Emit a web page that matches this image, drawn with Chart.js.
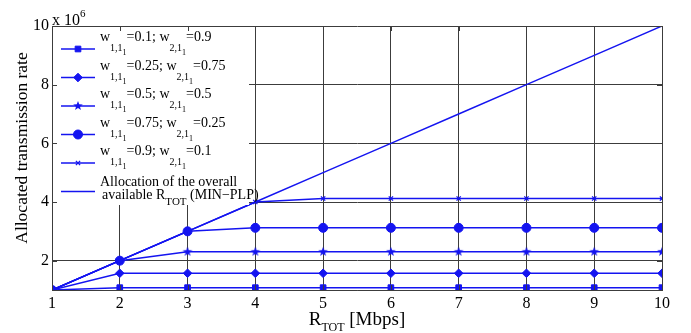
<!DOCTYPE html>
<html>
<head>
<meta charset="utf-8">
<script src="https://cdn.jsdelivr.net/npm/chart.js@4.4.1/dist/chart.umd.min.js"></script>
<style>
  body { margin: 0; background: #fff; }
  #wrap { width: 691px; height: 333px; position: relative; }
</style>
</head>
<body>
<div id="wrap"><canvas id="chart"></canvas></div>
<script>
// values in units of 10^6
const xVals = [1, 2, 3, 4, 5, 6, 7, 8, 9, 10];
const w01 = [1, 1.08, 1.08, 1.08, 1.08, 1.08, 1.08, 1.08, 1.08, 1.08];
const w025 = [1, 1.57, 1.57, 1.57, 1.57, 1.57, 1.57, 1.57, 1.57, 1.57];
const w05 = [1, 2, 2.3, 2.3, 2.3, 2.3, 2.3, 2.3, 2.3, 2.3];
const w075 = [1, 2, 3, 3.12, 3.12, 3.12, 3.12, 3.12, 3.12, 3.12];
const w09 = [1, 2, 3, 4, 4.12, 4.12, 4.12, 4.12, 4.12, 4.12];
const totalRate = [1, 2, 3, 4, 5, 6, 7, 8, 9, 10];
const xTicks = [1, 2, 3, 4, 5, 6, 7, 8, 9, 10];
const yTicks = [1, 2, 4, 6, 8, 10];

const blue = "rgb(20, 20, 240)";
const gridColor = "rgb(60, 60, 60)";
const serif = "'Liberation Serif', 'DejaVu Serif', serif";

function makeStar(r) {
  const c = document.createElement("canvas");
  c.width = c.height = 2 * r + 2;
  const g = c.getContext("2d");
  g.fillStyle = blue;
  g.beginPath();
  for (let i = 0; i < 10; i++) {
    const rad = i % 2 === 0 ? r : r * 0.42;
    const a = -Math.PI / 2 + i * Math.PI / 5;
    const px = r + 1 + rad * Math.cos(a), py = r + 1 + rad * Math.sin(a);
    if (i === 0) g.moveTo(px, py); else g.lineTo(px, py);
  }
  g.closePath();
  g.fill();
  return c;
}
const starImg = makeStar(5);

function pts(arr) {
  return xVals.map((x, i) => ({ x: x, y: arr[i] }));
}

function series(arr, style, radius) {
  return {
    data: pts(arr),
    borderColor: blue,
    backgroundColor: blue,
    borderWidth: 1.5,
    pointStyle: style,
    pointRadius: radius,
    pointBorderWidth: style === "crossRot" ? 1.3 : 1,
    pointBackgroundColor: blue,
    pointBorderColor: blue
  };
}

const datasets = [
  series(w01, "rect", 4),
  series(w025, "rectRot", 4.3),
  series(w05, starImg, 5),
  series(w075, "circle", 4.5),
  series(w09, "crossRot", 3),
  series(totalRate, false, 0)
];

// text with sub/superscript parts: [text, size, dy]
function drawParts(ctx, x, y, parts) {
  for (const p of parts) {
    ctx.font = p[1] + "px " + serif;
    ctx.fillText(p[0], x, y + p[2]);
    x += ctx.measureText(p[0]).width;
  }
  return x;
}

function wLabel(a, b) {
  return [
    ["w", 14, 0], ["1,1", 10, 10], ["1", 8, 14],
    ["=" + a + "; w", 14, 0], ["2,1", 10, 10], ["1", 8, 14],
    ["=" + b, 14, 0]
  ];
}

const legendLabels = [
  wLabel("0.1", "0.9"),
  wLabel("0.25", "0.75"),
  wLabel("0.5", "0.5"),
  wLabel("0.75", "0.25"),
  wLabel("0.9", "0.1")
];
const legendRows = [49, 77.5, 106, 134.5, 163, 191.5];

const decor = {
  id: "decor",
  afterDraw(chart) {
    const ctx = chart.ctx;
    const area = chart.chartArea;
    const xs = chart.scales.x, ys = chart.scales.y;
    ctx.save();
    // legend box
    ctx.fillStyle = "#fff";
    ctx.fillRect(area.left + 1, area.top + 1, 196, 178);

    // small inward tick marks on the box
    ctx.strokeStyle = gridColor;
    ctx.lineWidth = 1;
    ctx.beginPath();
    xTicks.forEach(v => {
      const px = Math.round(xs.getPixelForValue(v)) + 0.5;
      ctx.moveTo(px, area.top); ctx.lineTo(px, area.top + 5);
      ctx.moveTo(px, area.bottom); ctx.lineTo(px, area.bottom - 5);
    });
    yTicks.forEach(v => {
      const py = Math.round(ys.getPixelForValue(v)) + 0.5;
      ctx.moveTo(area.left, py); ctx.lineTo(area.left + 5, py);
      ctx.moveTo(area.right, py); ctx.lineTo(area.right - 5, py);
    });
    ctx.stroke();

    ctx.textAlign = "left";
    ctx.textBaseline = "alphabetic";
    legendRows.forEach((ly, i) => {
      const ds = chart.data.datasets[i];
      ctx.strokeStyle = blue;
      ctx.lineWidth = 1.5;
      ctx.beginPath();
      ctx.moveTo(61, ly);
      ctx.lineTo(95, ly);
      ctx.stroke();
      if (ds.pointRadius > 0 && Chart.helpers && Chart.helpers.drawPoint) {
        ctx.fillStyle = blue;
        ctx.lineWidth = ds.pointBorderWidth;
        Chart.helpers.drawPoint(ctx, { pointStyle: ds.pointStyle, radius: ds.pointRadius, borderWidth: ds.pointBorderWidth, rotation: 0 }, 78, ly);
      }
      ctx.fillStyle = "#000";
      if (i < 5) {
        drawParts(ctx, 100, ly - 8, legendLabels[i]);
      } else {
        drawParts(ctx, 100, ly - 6, [["Allocation of the overall", 14, 0]]);
        drawParts(ctx, 102, ly + 7, [["available R", 14, 0], ["TOT", 11, 6], [" (MIN\u2212PLP)", 14, 0]]);
      }
    });

    ctx.fillStyle = "#000";
    // x 10^6 exponent label
    drawParts(ctx, 52, 25, [["x 10", 16, 0], ["6", 11, -8]]);
    // x axis title, centred under the plot
    const xParts = [["R", 19, 0], ["TOT", 12, 6], [" [Mbps]", 19, 0]];
    let w = 0;
    xParts.forEach(p => { ctx.font = p[1] + "px " + serif; w += ctx.measureText(p[0]).width; });
    drawParts(ctx, (area.left + area.right) / 2 - w / 2, 325, xParts);
    // y axis title
    ctx.translate(27, (area.top + area.bottom) / 2 - 10);
    ctx.rotate(-Math.PI / 2);
    ctx.textAlign = "center";
    ctx.font = "17.5px " + serif;
    ctx.fillText("Allocated transmission rate", 0, 0);
    ctx.restore();
  }
};

new Chart(document.getElementById("chart"), {
  type: "line",
  data: { datasets: datasets },
  plugins: [decor],
  options: {
    responsive: true,
    maintainAspectRatio: false,
    animation: false,
    devicePixelRatio: 1,
    layout: { padding: { top: 26, right: 29, left: 0, bottom: 0 } },
    plugins: { legend: { display: false }, tooltip: { enabled: false } },
    scales: {
      x: {
        type: "linear",
        min: 1,
        max: 10,
        afterBuildTicks: s => { s.ticks = xTicks.map(v => ({ value: v })); },
        afterFit: s => { s.height = 43; },
        grid: { color: gridColor, lineWidth: 1, drawTicks: false },
        border: { color: gridColor },
        ticks: { color: "#000", padding: 4, maxRotation: 0, font: { family: serif, size: 16 } }
      },
      y: {
        type: "linear",
        min: 1,
        max: 10,
        afterBuildTicks: s => { s.ticks = yTicks.map(v => ({ value: v })); },
        afterFit: s => { s.width = 52; },
        grid: { color: gridColor, lineWidth: 1, drawTicks: false },
        border: { color: gridColor },
        ticks: {
          color: "#000",
          padding: 3,
          font: { family: serif, size: 16 },
          callback: v => (v === 1 ? "" : String(v))
        }
      }
    }
  }
});
</script>
</body>
</html>
